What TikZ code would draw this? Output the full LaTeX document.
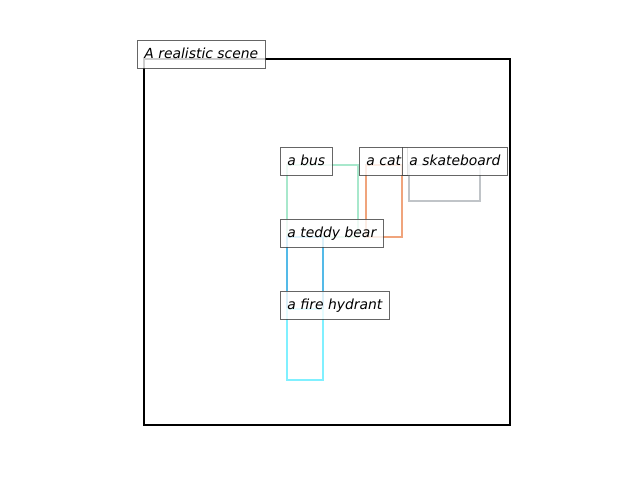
\documentclass[tikz,border=0pt]{standalone}
\usepackage{fontspec}
\setmainfont{DejaVu Sans}
\begin{document}
\begin{tikzpicture}[x=0.72pt,y=-0.72pt,
  lbl/.style={draw=black!75, line width=0.72pt, fill=white, fill opacity=0.8, draw opacity=0.8, text opacity=1,
    anchor=west, font=\fontsize{10pt}{12pt}\selectfont\itshape, inner xsep=5pt, inner ysep=0pt,
    text height=8.2pt, text depth=1.9pt, minimum height=20.16pt},
  obj/.style={line width=1.8pt}]
\useasboundingbox (0,0) rectangle (640,480);
\definecolor{cbus}{RGB}{168,232,204}
\definecolor{ccat}{RGB}{240,164,124}
\definecolor{cskate}{RGB}{192,196,200}
\definecolor{cteddy}{RGB}{84,186,232}
\definecolor{chyd}{RGB}{128,240,255}
\draw[line width=1.44pt] (144,59) rectangle (510,425);
\draw[obj, cbus] (287,165) rectangle (358,237);
\draw[obj, ccat] (366,165) rectangle (402,237);
\draw[obj, cskate] (409,165) rectangle (480,201);
\draw[obj, cteddy] (287,237) rectangle (323,309);
\draw[obj, chyd] (287,309) rectangle (323,380);
\node[lbl] (title) at (137,54) {A realistic scene};
\node[lbl] (bus) at (280,161) {a bus};
\node[lbl] (cat) at (359,161) {a cat};
\node[lbl] (skate) at (402,161) {a skateboard};
\node[lbl] (teddy) at (280,233) {a teddy bear};
\node[lbl] (hyd) at (280,305) {a fire hydrant};
\end{tikzpicture}
\end{document}
